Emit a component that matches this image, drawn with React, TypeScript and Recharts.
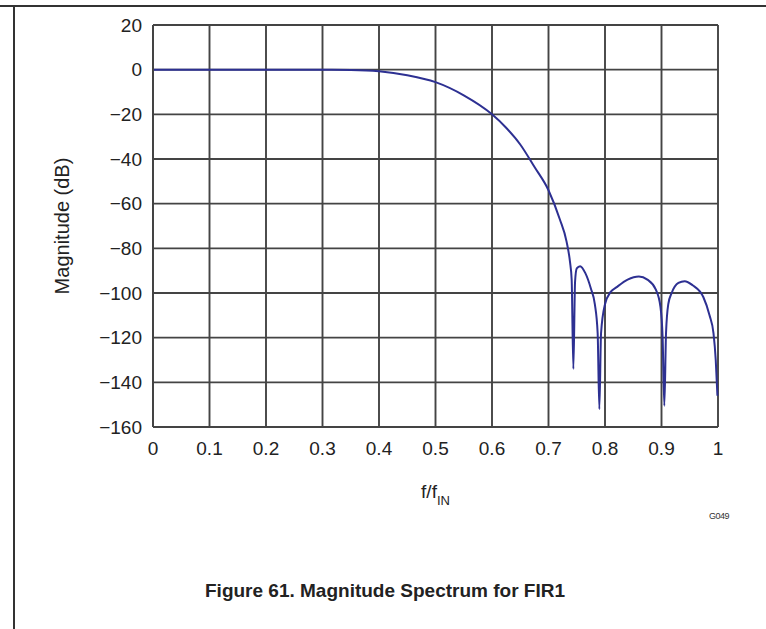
import { LineChart, Line, XAxis, YAxis, CartesianGrid, Label } from 'recharts';

// normalized frequency f/fIN
const freq = [
  0, 0.1, 0.2, 0.3, 0.35, 0.4, 0.45, 0.5, 0.55, 0.6, 0.625, 0.65, 0.675, 0.7, 0.72, 0.732, 0.738,
  0.741, 0.744, 0.747, 0.75, 0.756, 0.765, 0.775, 0.782, 0.787, 0.79, 0.793, 0.8, 0.81, 0.82, 0.84,
  0.86, 0.875, 0.89, 0.898, 0.902, 0.905, 0.908, 0.912, 0.918, 0.93, 0.941, 0.955, 0.974, 0.985,
  0.992, 0.996, 0.999,
];

// magnitude in dB
const magnitude = [
  0, 0, 0, 0, -0.1, -0.7, -2.5, -5.6, -11.5, -20, -26, -33.5, -43.5, -54, -67, -77, -86,
  -94, -134, -95, -89, -88, -91, -98, -105, -118, -152, -118, -105, -99.5, -97.5, -94,
  -92.6, -94, -98.5, -106, -120, -150.5, -118, -105, -100, -95.5, -94.7, -96.5, -101.8, -110,
  -118, -130, -146,
];

const xTicks = [0, 0.1, 0.2, 0.3, 0.4, 0.5, 0.6, 0.7, 0.8, 0.9, 1];
const yTicks = [20, 0, -20, -40, -60, -80, -100, -120, -140, -160];

const data = freq.map((f, i) => ({ f, db: magnitude[i] }));

const FONT = '"Liberation Sans", Arial, sans-serif';
const GRID = '#444';
const TEXT = '#222';

const fmtY = (v: number) => (v < 0 ? `\u2212${Math.abs(v)}` : `${v}`);
const fmtX = (v: number) => (v === 0 || v === 1 ? `${v}` : v.toFixed(1));

function XTitle({ viewBox }: any) {
  const cx = viewBox.x + viewBox.width / 2;
  return (
    <text x={cx} y={498} textAnchor="middle" fontFamily={FONT} fontSize={19} fill={TEXT}>
      f/f
      <tspan fontSize={13} dy={7}>IN</tspan>
    </text>
  );
}

function YTitle({ viewBox }: any) {
  const cy = viewBox.y + viewBox.height / 2;
  const x = 62;
  return (
    <text
      x={x}
      y={cy}
      transform={`rotate(-90 ${x} ${cy})`}
      textAnchor="middle"
      dominantBaseline="central"
      fontFamily={FONT}
      fontSize={20}
      fill={TEXT}
    >
      Magnitude (dB)
    </text>
  );
}

export default function App() {
  return (
    <div style={{ position: 'absolute', left: 0, top: 0, width: 766, height: 629, background: '#fff', fontFamily: FONT }}>
      <div style={{ position: 'absolute', left: 0, top: 5, width: 766, height: 2, background: '#333' }} />
      <div style={{ position: 'absolute', left: 13, top: 5, width: 2, height: 624, background: '#333' }} />
      <LineChart width={766} height={629} data={data} margin={{ top: 25, right: 48, bottom: 122, left: 30 }}>
        <CartesianGrid stroke={GRID} strokeWidth={1.9} />
        <XAxis
          dataKey="f"
          type="number"
          domain={[0, 1]}
          ticks={xTicks}
          tickFormatter={fmtX}
          height={80}
          tickSize={0}
          tickMargin={15}
          axisLine={{ stroke: GRID, strokeWidth: 1.9 }}
          tick={{ fill: TEXT, fontSize: 19, fontFamily: FONT }}
        >
          <Label content={<XTitle />} />
        </XAxis>
        <YAxis
          type="number"
          domain={[-160, 20]}
          ticks={yTicks}
          tickFormatter={fmtY}
          width={123}
          tickSize={0}
          tickMargin={11}
          axisLine={{ stroke: GRID, strokeWidth: 1.9 }}
          tick={{ fill: TEXT, fontSize: 19, fontFamily: FONT }}
        >
          <Label content={<YTitle />} />
        </YAxis>
        <Line
          type="monotone"
          dataKey="db"
          stroke="#2d3092"
          strokeWidth={2}
          dot={false}
          isAnimationActive={false}
        />
      </LineChart>
      <div style={{ position: 'absolute', left: 709, top: 511, fontSize: 9, color: '#333', letterSpacing: -0.5 }}>G049</div>
      <div
        style={{
          position: 'absolute',
          left: 0,
          width: 770,
          top: 580,
          textAlign: 'center',
          fontSize: 19,
          fontWeight: 'bold',
          color: TEXT,
        }}
      >
        Figure 61. Magnitude Spectrum for FIR1
      </div>
    </div>
  );
}
